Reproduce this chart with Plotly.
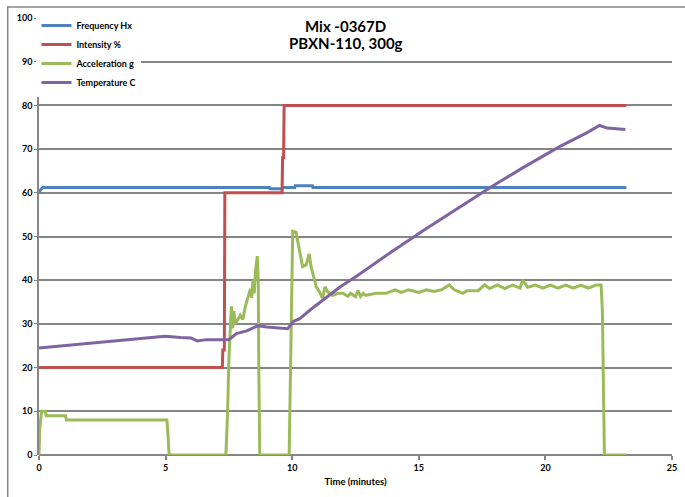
import plotly.graph_objects as go

# ---- data ----
freq_t = [0, 0.05, 0.15, 9.1, 9.12, 9.6, 9.62, 10.1, 10.12, 10.8, 10.82, 23.2]
freq_v = [60, 60.6, 61.2, 61.2, 60.9, 60.9, 61.2, 61.2, 61.6, 61.6, 61.2, 61.2]

int_t = [0, 7.24, 7.26, 7.32, 7.34, 9.6, 9.62, 9.66, 9.68, 23.2]
int_v = [20, 20, 24, 24, 60, 60, 68, 68, 80, 80]

acc_t = [0, 0.03, 0.1, 0.26, 0.28, 1.05, 1.08, 5.05, 5.08, 5.14, 7.38, 7.45, 7.5, 7.55,
         7.6, 7.65, 7.7, 7.75, 7.85, 7.95, 8.05, 8.15, 8.25, 8.35, 8.4, 8.45, 8.5, 8.55,
         8.62, 8.66, 8.68, 8.72, 9.88, 9.93, 9.97, 10.02, 10.15, 10.28, 10.41, 10.55,
         10.67, 10.75, 10.87, 10.95, 11.07, 11.2, 11.3, 11.39, 11.6, 11.8, 12.0, 12.2,
         12.3, 12.5, 12.6, 12.7, 12.8, 12.9, 13.3, 13.5, 13.7, 14.07, 14.3, 14.6, 15.0,
         15.3, 15.6, 15.9, 16.2, 16.4, 16.75, 16.9, 17.34, 17.6, 17.8, 18.1, 18.4, 18.7,
         19.0, 19.1, 19.3, 19.6, 19.9, 20.2, 20.5, 20.8, 21.1, 21.4, 21.7, 22.0, 22.2,
         22.25, 22.3, 22.33, 23.2]
acc_v = [0, 6, 10, 10, 9, 9, 8, 8, 6, 0, 0, 10, 22, 28,
         34, 29, 33, 30, 31, 32, 31, 34, 36, 38, 36, 40, 37, 42,
         45.5, 40, 20, 0, 0, 20, 42, 51.2, 51, 47.3, 43.1, 43.5,
         46, 43, 40, 38.5, 37.4, 35.9, 38.5, 37.4, 36.5, 37, 37, 36.3,
         37, 36.2, 37.6, 36.3, 37, 36.5, 37, 37, 37, 37.8, 37.2, 37.8, 37.2,
         37.8, 37.4, 37.8, 38.9, 37.8, 37.0, 37.6, 37.6, 38.9, 38.1, 38.9, 38.1, 38.9,
         38.2, 40, 38.4, 38.9, 38.2, 38.9, 38.2, 38.9, 38.2, 38.9, 38.2, 38.9, 38.9,
         33, 10, 0, 0]

temp_t = [0, 2.5, 4.97, 5.6, 6.0, 6.25, 6.6, 7.5, 7.65, 7.8, 8.2, 8.65, 9.0, 9.82,
          10.05, 10.3, 10.73, 11.26, 11.9, 12.57, 13.87, 15.18, 16.75, 17.93, 19.1,
          20.54, 21.59, 22.14, 22.44, 23.16]
temp_v = [24.5, 25.9, 27.2, 26.9, 26.8, 26.1, 26.4, 26.4, 27.0, 27.8, 28.4, 29.6, 29.3, 28.9,
          30.6, 31.2, 33.3, 35.6, 38.5, 41.0, 46.3, 51.4, 57.2, 61.6, 65.7,
          70.5, 73.6, 75.4, 74.8, 74.5]

series_names = ["Frequency Hx", "Intensity %", "Acceleration g", "Temperature C"]
series_colors = ["#4F81BD", "#C0504D", "#9BBB59", "#8064A2"]
title_lines = ["Mix -0367D", "PBXN-110, 300g"]
x_title = "Time (minutes)"

FONT = "Lato"
GRID = "#868686"

fig = go.Figure()
for name, color, xs, ys in zip(series_names, series_colors,
                               [freq_t, int_t, acc_t, temp_t],
                               [freq_v, int_v, acc_v, temp_v]):
    fig.add_trace(go.Scatter(x=xs, y=ys, mode="lines", name=name,
                             line=dict(color=color, width=3), legendgroup=name))

fig.update_layout(
    width=685, height=497,
    margin=dict(l=39, r=8, t=18, b=42),
    paper_bgcolor="white", plot_bgcolor="white",
    font=dict(family=FONT, color="black", size=9),
    showlegend=True,
    legend=dict(x=-0.004, y=1.016, xanchor="left", yanchor="top",
                bgcolor="white", borderwidth=0,
                font=dict(family=FONT, size=9, weight="bold"),
                traceorder="grouped", tracegroupgap=0,
                itemwidth=30),
    xaxis=dict(range=[0, 25], dtick=5, tick0=0, showgrid=False,
               showline=False, zeroline=False,
               ticks="outside", ticklen=4, tickcolor=GRID, tickwidth=1.5,
               tickfont=dict(family=FONT, size=9, weight="bold"),
               title=dict(text=x_title, font=dict(family=FONT, size=9.5, weight="bold"),
                          standoff=6)),
    yaxis=dict(range=[0, 100], dtick=10, tick0=0, showgrid=True,
               gridcolor=GRID, gridwidth=1.5, zeroline=True, zerolinecolor=GRID,
               zerolinewidth=2, showline=True, linecolor=GRID, linewidth=1.5,
               ticks="outside", ticklen=3, tickcolor=GRID,
               tickfont=dict(family=FONT, size=9, weight="bold")),
)

for i, line in enumerate(title_lines):
    fig.add_annotation(text=line, xref="paper", yref="paper",
                       x=(348 - 39) / 638, y=(455 - (26.5 + 17 * i)) / 437,
                       xanchor="center", yanchor="middle", showarrow=False,
                       font=dict(family=FONT, size=15, weight="bold", color="black"))

# outer chart-area border (partially clipped by the image edge)
fig.add_shape(type="rect", xref="paper", yref="paper",
              x0=(7.5 - 39) / 638, x1=(720 - 39) / 638,
              y0=(455 - 540) / 437, y1=(455 - 7) / 437,
              line=dict(color=GRID, width=1.5), layer="below")

fig.write_html("out.html", config={"displayModeBar": False})

# remove the browser's default page margin so the figure sits at the window origin
with open("out.html", "r", encoding="utf-8") as f:
    html = f.read()
html = html.replace("<head>", "<head><style>html,body{margin:0;padding:0;overflow:hidden}</style>", 1)
with open("out.html", "w", encoding="utf-8") as f:
    f.write(html)
